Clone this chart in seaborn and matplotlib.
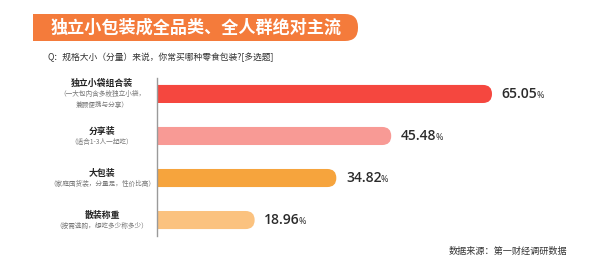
import matplotlib
matplotlib.use("Agg")
import matplotlib.pyplot as plt
import matplotlib.transforms as mtransforms
from matplotlib.patches import FancyBboxPatch, Rectangle
import seaborn as sns
import pandas as pd

sns.set_theme(style="white")
plt.rcParams['font.family'] = ['Noto Sans CJK SC', 'DejaVu Sans']

# ---- data ----
categories = ["独立小袋组合装", "分享装", "大包装", "散装称重"]
subtitles = ["（一大包内含多枚独立小袋，\n兼顾便携与分享）",
             "（适合1-3人一起吃）",
             "（家庭囤货装，分量足，性价比高）",
             "（按需选购，想吃多少称多少）"]
values = [65.05, 45.48, 34.82, 18.96]
colors = ["#F5473F", "#F89A95", "#F6A43D", "#FBC27F"]
title = "独立小包装成全品类、全人群绝对主流"
question = "Q：规格大小（分量）来说，你常买哪种零食包装?[多选题]"
source = "数据来源：第一财经调研数据"

df = pd.DataFrame({"cat": categories, "val": values})

W, H = 600, 263
fig = plt.figure(figsize=(W / 100, H / 100), dpi=100)
fig.patch.set_facecolor("white")

ax_left, ax_right = 157 / W, 590 / W
ax_top, ax_bot = 1 - 78 / H, 1 - 236 / H
ax = fig.add_axes([ax_left, ax_bot, ax_right - ax_left, ax_top - ax_bot])

sns.barplot(data=df, y="cat", x="val", hue="cat", palette=colors, legend=False,
            orient="h", width=0.43, ax=ax, saturation=1)

xmax = (590 - 157) / 5.15
ax.set_xlim(0, xmax)
ax.set_ylim(3.38, -0.38)

# rounded right ends
ax_w_px = (ax_right - ax_left) * W
ax_h_px = (ax_top - ax_bot) * H
x_per_px = xmax / ax_w_px
y_per_px = 3.76 / ax_h_px
for p in list(ax.patches):
    x0, y0 = p.get_x(), p.get_y()
    w, h = p.get_width(), p.get_height()
    fc = p.get_facecolor()
    p.set_visible(False)
    r = h / 2 / y_per_px * x_per_px  # radius in x data units
    fb = FancyBboxPatch((x0 - 2 * r, y0), w + 2 * r, h,
                        boxstyle=f"round,pad=0,rounding_size={r}",
                        mutation_aspect=y_per_px / x_per_px,
                        facecolor=fc, edgecolor="none", clip_on=True)
    ax.add_patch(fb)

# value labels
for i, v in enumerate(values):
    t = ax.annotate(f"{v:.2f}", xy=(v, i), xytext=(7, 0), textcoords="offset points",
                    va="center", ha="left", fontsize=10, fontweight="semibold",
                    color="#2b2b2b", family=["Open Sans", "DejaVu Sans"])
    ax.annotate("%", xy=(1, 0), xycoords=t, xytext=(-1.0, 0.8), textcoords="offset points",
                va="bottom", ha="left", fontsize=6.5, color="#2b2b2b",
                family=["Open Sans", "DejaVu Sans"])

# axes styling
ax.set_xlabel("")
ax.set_ylabel("")
ax.set_xticks([])
ax.set_yticks([])
for s in ["top", "right", "bottom"]:
    ax.spines[s].set_visible(False)
ax.spines["left"].set_color("#9a9a9a")
ax.spines["left"].set_linewidth(1.0)
ax.set_facecolor("none")

# category labels (left)
trans = mtransforms.blended_transform_factory(fig.transFigure, ax.transData)
lbl_x = 102 / W
for i, (c, s) in enumerate(zip(categories, subtitles)):
    nlines = s.count("\n") + 1
    ytop = i - 0.24 if nlines == 2 else i - 0.1
    fig.text(lbl_x, ytop, c, transform=trans, ha="center", va="center",
             fontsize=6.4, fontweight="bold", color="#222222")
    fig.text(lbl_x, ytop + 0.14, s, transform=trans, ha="center", va="top",
             fontsize=4.8, color="#777777", linespacing=1.5)

# title banner (pixel coordinates)
pix = mtransforms.Affine2D().scale(1 / W, 1 / H) + fig.transFigure
bx0, by0, bx1, by1 = 33, 14, 358, 41
r_px = 13
banner = FancyBboxPatch((bx0, H - by1), bx1 - bx0, by1 - by0,
                        boxstyle=f"round,pad=0,rounding_size={r_px}",
                        transform=pix, facecolor="#F47B3B", edgecolor="none")
fig.patches.append(banner)
fig.patches.append(Rectangle((bx0, H - by1), 40, by1 - by0, transform=pix,
                             facecolor="#F47B3B", edgecolor="none"))
fig.text(196 / W, 1 - 27.5 / H, title, ha="center", va="center", fontsize=12.3,
         fontweight="heavy", color="white")

fig.text(48 / W, 1 - 57 / H, question, ha="left", va="center", fontsize=6.3,
         color="#333333")
fig.text(508 / W, 1 - 251 / H, source, ha="center", va="center", fontsize=6.6,
         color="#333333")

fig.savefig("out.png", dpi=100, facecolor="white")
